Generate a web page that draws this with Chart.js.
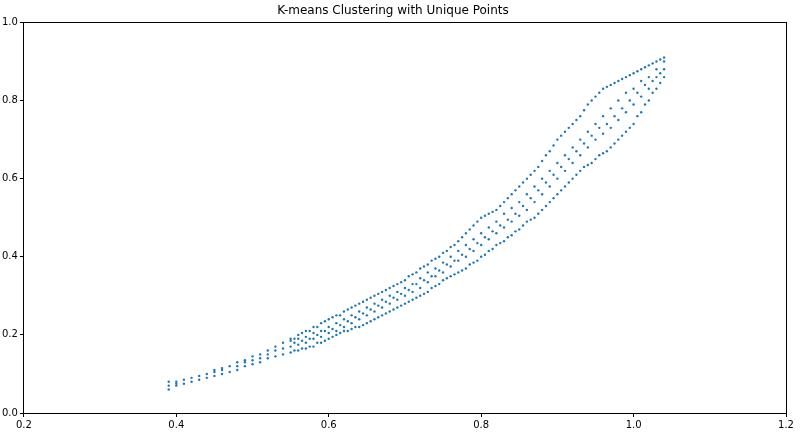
<!DOCTYPE html>
<html><head><meta charset="utf-8">
<script src="https://cdn.jsdelivr.net/npm/chart.js@4/dist/chart.umd.min.js"></script>
<style>html,body{margin:0;padding:0;background:#fff}#w{width:806px;height:444px}</style>
</head><body><div id="w"><canvas id="c"></canvas></div>
<script>
const title = "K-means Clustering with Unique Points";
const xTicks = [0.2,0.4,0.6,0.8,1.0,1.2];
const yTicks = [0.0,0.2,0.4,0.6,0.8,1.0];
const xValues = [0.39,0.40,0.41,0.42,0.43,0.44,0.45,0.46,0.47,0.48,0.49,0.50,0.51,0.52,0.53,0.54,0.55,0.56,0.57,0.58,0.59,0.60,0.61,0.62,0.63,0.64,0.65,0.66,0.67,0.68,0.69,0.70,0.71,0.72,0.73,0.74,0.75,0.76,0.77,0.78,0.79,0.80,0.81,0.82,0.83,0.84,0.85,0.86,0.87,0.88,0.89,0.90,0.91,0.92,0.93,0.94,0.95,0.96,0.97,0.98,0.99,1.00,1.01,1.02,1.03,1.04];
const yValues = [
[.06,.07,.08],[.07,.075,.08],[.075,.085],[.08,.09],[.085,.095],[.09,.10],[.095,.105,.11],[.10,.11,.115],[.105,.12],[.11,.12,.13],
[.12,.13,.135],[.125,.135,.145],[.13,.14,.15],[.14,.15,.16],[.145,.16,.17],[.15,.165,.18],[.155,.17,.185,.19],[.16,.175,.19,.20],[.165,.18,.195,.21],[.17,.19,.205,.22],
[.18,.195,.21,.23],[.19,.205,.22,.24],[.20,.21,.23,.25],[.21,.22,.24,.26],[.215,.23,.25,.27],[.22,.24,.26,.28],[.23,.25,.27,.29],[.24,.26,.28,.30],[.25,.27,.29,.31],[.26,.28,.30,.32],
[.27,.29,.31,.33],[.28,.30,.32,.34],[.29,.31,.33,.355],[.30,.32,.345,.37],[.31,.335,.36,.38],[.325,.35,.37,.395],[.34,.36,.385,.41],[.35,.375,.40,.425],[.36,.39,.415,.44],[.37,.40,.43,.46],
[.385,.415,.445,.48],[.40,.43,.46,.50],[.415,.445,.475,.51],[.43,.46,.49,.52],[.44,.475,.51,.54],[.455,.49,.525,.56],[.47,.505,.54,.58],[.49,.52,.56,.60],[.50,.54,.58,.62],[.52,.56,.60,.645],
[.54,.58,.62,.67],[.56,.60,.64,.70],[.58,.62,.66,.72],[.60,.64,.68,.74],[.62,.66,.70,.76],[.635,.68,.72,.79],[.65,.70,.74,.81],[.665,.715,.76,.83],[.68,.73,.78,.84],[.70,.75,.80,.85],
[.72,.77,.82,.86],[.74,.79,.83,.87],[.77,.81,.85,.88],[.80,.83,.86,.89],[.83,.86,.88,.90],[.86,.88,.90,.91]];
const xValuesB = [0.555,0.565,0.575,0.585,0.595,0.605,0.615,0.625,0.635,0.645,0.655,0.665,0.675,0.685,0.695,0.705,0.715,0.725,0.735,0.745,0.755,0.765,0.775,0.785,0.795,0.805,0.815,0.825,0.835,0.845,0.855,0.865,0.875,0.885,0.895,0.905,0.915,0.925,0.935,0.945,0.955,0.965,0.975,0.985,0.995,1.005,1.015,1.025,1.035];
const yValuesB = [
[.16,.18,.19],[.165,.185,.205],[.17,.19,.21],[.18,.20,.22],[.185,.21,.235],[.195,.215,.245],[.205,.225,.25],[.21,.235,.265],[.22,.245,.275],[.225,.255,.285],
[.235,.265,.295],[.245,.275,.305],[.255,.285,.315],[.265,.295,.325],[.275,.305,.335],[.285,.315,.35],[.295,.33,.36],[.305,.34,.375],[.32,.35,.39],[.33,.365,.40],
[.345,.38,.415],[.355,.39,.43],[.365,.405,.45],[.38,.42,.47],[.39,.435,.49],[.405,.45,.505],[.42,.465,.515],[.435,.48,.53],[.45,.495,.55],[.465,.51,.57],
[.48,.53,.59],[.495,.55,.61],[.51,.57,.63],[.53,.59,.66],[.55,.61,.685],[.57,.63,.71],[.59,.65,.73],[.61,.67,.75],[.63,.69,.775],[.64,.71,.80],
[.66,.73,.82],[.67,.74,.835],[.69,.76,.845],[.71,.78,.855],[.73,.80,.865],[.76,.82,.875],[.79,.84,.885],[.82,.85,.895],[.845,.87,.905]];
const pts = [];
xValues.forEach((x,i)=>yValues[i].forEach(y=>pts.push({x:x,y:y})));
xValuesB.forEach((x,i)=>yValuesB[i].forEach(y=>pts.push({x:x,y:y})));
Chart.defaults.font.family = "DejaVu Sans";
Chart.defaults.color = "#000";
const g = {display:true,drawOnChartArea:false,drawTicks:true,tickLength:4,tickColor:'#000'};
new Chart(document.getElementById('c'),{
 type:'scatter',
 data:{datasets:[{data:pts,backgroundColor:'#1f77b4',borderColor:'#1f77b4',pointRadius:1.2,borderWidth:0}]},
 options:{responsive:true,maintainAspectRatio:false,animation:false,
  layout:{padding:{left:0,right:20,top:0,bottom:11}},
  plugins:{legend:{display:false},tooltip:{enabled:false},
   title:{display:true,text:title,font:{size:12,weight:'normal'},padding:{top:4,bottom:4}}},
  scales:{
   x:{type:'linear',min:0.2,max:1.2,afterBuildTicks:a=>{a.ticks=xTicks.map(v=>({value:v}));},
      grid:g,border:{color:'#000'},ticks:{font:{size:10},padding:2,callback:v=>v.toFixed(1)}},
   y:{type:'linear',min:0,max:1,afterBuildTicks:a=>{a.ticks=yTicks.map(v=>({value:v}));},
      grid:g,border:{color:'#000'},ticks:{font:{size:10},padding:2,callback:v=>v.toFixed(1)}},
   x2:{position:'top',type:'linear',min:0.2,max:1.2,grid:{display:false,drawTicks:false},border:{color:'#000'},ticks:{display:false}},
   y2:{position:'right',type:'linear',min:0,max:1,grid:{display:false,drawTicks:false},border:{color:'#000'},ticks:{display:false}}
  }}
});
</script></body></html>
